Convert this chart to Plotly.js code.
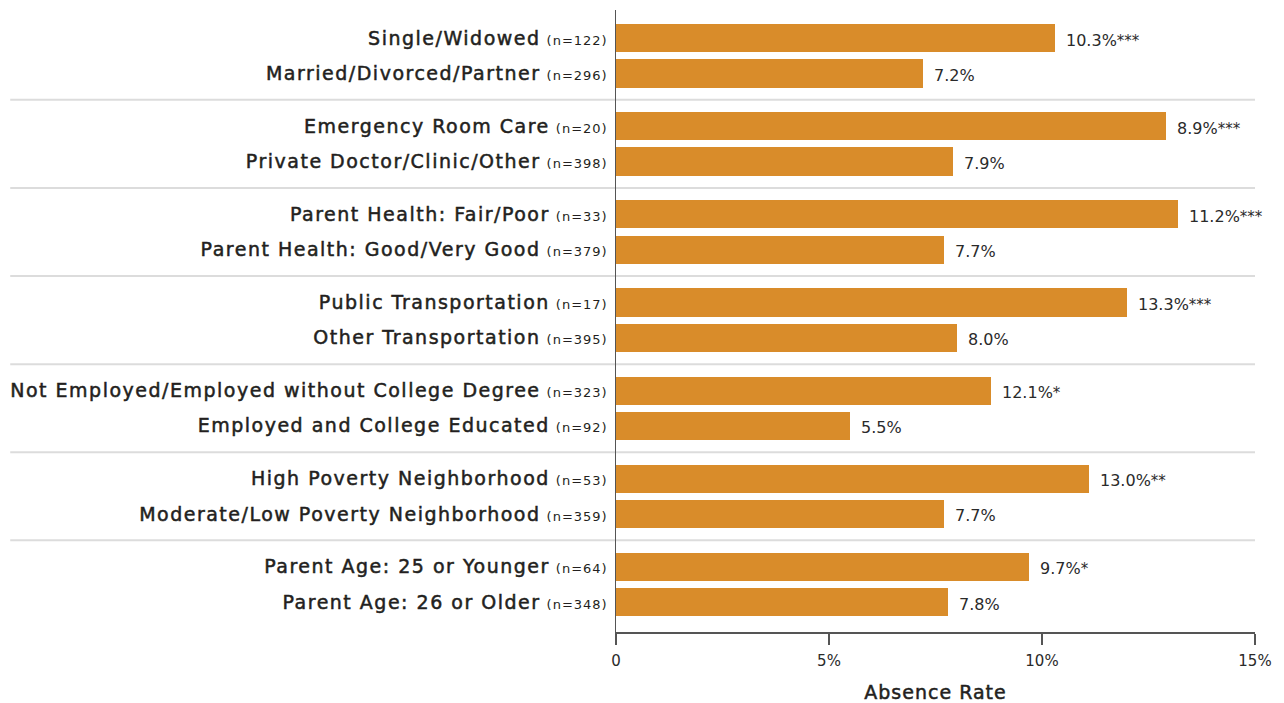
<!DOCTYPE html>
<html>
<head>
<meta charset="utf-8">
<script src="https://cdn.plot.ly/plotly-3.0.1.min.js"></script>
<style>html,body{margin:0;padding:0;background:#fff;}#chart{width:1284px;height:703px;}</style>
</head>
<body>
<div id="chart"></div>
<script>
// Category labels (top to bottom)
const categories = [
  "Single/Widowed", "Married/Divorced/Partner",
  "Emergency Room Care", "Private Doctor/Clinic/Other",
  "Parent Health: Fair/Poor", "Parent Health: Good/Very Good",
  "Public Transportation", "Other Transportation",
  "Not Employed/Employed without College Degree", "Employed and College Educated",
  "High Poverty Neighborhood", "Moderate/Low Poverty Neighborhood",
  "Parent Age: 25 or Younger", "Parent Age: 26 or Older"
];
const sampleSizes = ["n=122","n=296","n=20","n=398","n=33","n=379","n=17","n=395","n=323","n=92","n=53","n=359","n=64","n=348"];
// Bar lengths as drawn in the reference (percent)
const barValues = [10.3, 7.2, 12.9, 7.9, 13.2, 7.7, 12.0, 8.0, 8.8, 5.5, 11.1, 7.7, 9.7, 7.8];
// Printed value labels
const valueLabels = ["10.3%","7.2%","8.9%","7.9%","11.2%","7.7%","13.3%","8.0%","12.1%","5.5%","13.0%","7.7%","9.7%","7.8%"];
const significance = ["***","","***","","***","","***","","*","","**","","*",""];
const groupIndex = [0,0,1,1,2,2,3,3,4,4,5,5,6,6];
const itemIndex = [0,1,0,1,0,1,0,1,0,1,0,1,0,1];
const xTickVals = [0, 5, 10, 15];
const xTickText = ["0", "5%", "10%", "15%"];

const GROUP_STEP = 2.5;
const pos = groupIndex.map((g, i) => g * GROUP_STEP + itemIndex[i]);
const tickText = categories.map((c, i) =>
  '<span style="letter-spacing:1.5px;stroke:#231f20;stroke-width:0.5px">' + c +
  '</span> <span style="font-size:13px;letter-spacing:1px">(' + sampleSizes[i] + ')</span>');

const FONT = 'DejaVu Sans, sans-serif';
const TEXT = '#231f20';

const bar = {
  type: 'bar', orientation: 'h',
  x: barValues, y: pos,
  width: 0.8,
  marker: {color: '#d98c2a', line: {width: 0}},
  hoverinfo: 'skip'
};

const annotations = barValues.map((v, i) => ({
  x: v, y: pos[i], xref: 'x', yref: 'y',
  xanchor: 'left', yanchor: 'middle', xshift: 9, yshift: -2,
  showarrow: false,
  text: valueLabels[i] + (significance[i] ? '<span style="font-size:15px">' + significance[i] + '</span>' : ''),
  font: {family: FONT, size: 16, color: '#2a2a2a'}
}));

const shapes = [];
for (let g = 0; g < 6; g++) {
  const ySep = g * GROUP_STEP + 1 + (GROUP_STEP - 1) / 2;
  shapes.push({type: 'line', xref: 'paper', yref: 'y', x0: -0.948, x1: 1, y0: ySep, y1: ySep,
    line: {color: '#dcdcdc', width: 2}, layer: 'below'});
}

const layout = {
  width: 1284, height: 703,
  margin: {l: 616, r: 29, t: 10, b: 71},
  paper_bgcolor: '#fff', plot_bgcolor: '#fff',
  showlegend: false,
  bargap: 0,
  xaxis: {
    range: [0, 15], tickvals: xTickVals, ticktext: xTickText,
    showgrid: false, zeroline: false,
    showline: true, linecolor: '#555', linewidth: 1.5,
    ticks: 'outside', ticklen: 11, tickcolor: '#555', tickwidth: 1.5,
    ticklabelstandoff: 3,
    tickfont: {family: FONT, size: 15, color: '#2a2a2a'},
    title: {text: '<span style="letter-spacing:1px;stroke:#231f20;stroke-width:0.5px">Absence Rate</span>',
            font: {family: FONT, size: 19, color: TEXT}, standoff: 18}
  },
  yaxis: {
    range: [16.85, -0.8], tickvals: pos, ticktext: tickText,
    showgrid: false, zeroline: false,
    showline: true, linecolor: '#555', linewidth: 1.5,
    ticks: '', ticklabelstandoff: 3,
    tickfont: {family: FONT, size: 19, color: TEXT}
  },
  shapes: shapes,
  annotations: annotations
};

Plotly.newPlot('chart', [bar], layout, {displayModeBar: false, staticPlot: true});
</script>
</body>
</html>
